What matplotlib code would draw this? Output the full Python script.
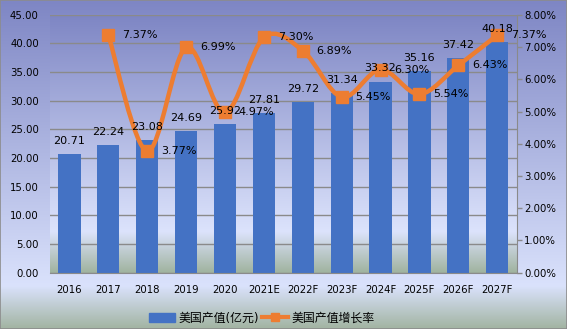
import numpy as np
import matplotlib
matplotlib.use('Agg')
import matplotlib.pyplot as plt
from matplotlib.path import Path
from matplotlib.patches import PathPatch, Rectangle
from matplotlib.lines import Line2D
from matplotlib.ticker import FuncFormatter

plt.rcParams['font.family'] = ['DejaVu Sans', 'Noto Sans CJK SC']

years = ['2016', '2017', '2018', '2019', '2020', '2021E', '2022F', '2023F',
         '2024F', '2025F', '2026F', '2027F']
output = [20.71, 22.24, 23.08, 24.69, 25.92, 27.81, 29.72, 31.34, 33.32, 35.16, 37.42, 40.18]
# growth rate starts in 2017
growth = [None, 7.37, 3.77, 6.99, 4.97, 7.30, 6.89, 5.45, 6.30, 5.54, 6.43, 7.37]

bar_name = '美国产值(亿元)'
line_name = '美国产值增长率'
bar_color = '#4472C4'
line_color = '#ED7D31'


def vgrad(stops, n=256):
    pos = np.linspace(0, 1, n)
    sp = [s[0] for s in stops]
    cols = [matplotlib.colors.to_rgb(s[1]) for s in stops]
    arr = np.zeros((n, 1, 3))
    for c in range(3):
        arr[:, 0, c] = np.interp(pos, sp, [col[c] for col in cols])
    return arr


def smooth_path(xs, ys):
    # excel-like smoothed line (catmull-rom -> cubic bezier)
    pts = list(zip(xs, ys))
    verts = [pts[0]]
    codes = [Path.MOVETO]
    for i in range(len(pts) - 1):
        p0 = pts[i - 1] if i > 0 else pts[i]
        p1 = pts[i]
        p2 = pts[i + 1]
        p3 = pts[i + 2] if i + 2 < len(pts) else pts[i + 1]
        c1 = (p1[0] + (p2[0] - p0[0]) / 6, p1[1] + (p2[1] - p0[1]) / 6)
        c2 = (p2[0] - (p3[0] - p1[0]) / 6, p2[1] - (p3[1] - p1[1]) / 6)
        verts += [c1, c2, p2]
        codes += [Path.CURVE4] * 3
    return Path(verts, codes)


fig = plt.figure(figsize=(5.67, 3.29), dpi=100)

# figure background gradient
bg = fig.add_axes([0, 0, 1, 1], zorder=-10)
bg.imshow(vgrad([(0, '#7e86c4'), (0.87, '#dae2fc'), (1, '#a2b4a2')]),
          aspect='auto', extent=[0, 1, 0, 1])
bg.set_axis_off()
fig.add_artist(Rectangle((0, 0), 1, 1, transform=fig.transFigure, fill=False,
                         edgecolor='#8c8c8c', lw=1.2))

ax = fig.add_axes([0.0882, 0.171, 0.823, 0.784])
ax.patch.set_visible(False)
ax.imshow(vgrad([(0, '#7e86c4'), (0.84, '#dce3fc'), (1, '#a0b39f')]),
          aspect='auto', extent=[0, 1, 0, 1], transform=ax.transAxes, zorder=0)

x = np.arange(len(years))
ax.bar(x, output, width=0.57, color=bar_color, zorder=2)
ax.set_xlim(-0.5, len(years) - 0.5)
ax.set_ylim(0, 45)
ax.set_yticks(np.arange(0, 46, 5))
ax.yaxis.set_major_formatter(FuncFormatter(lambda v, p: '%.2f' % v))
ax.set_xticks(x)
ax.set_xticklabels(years)
ax.grid(axis='y', color='#8a8a8a', lw=1, zorder=1)
ax.set_axisbelow(True)
ax.tick_params(axis='x', length=0, pad=9, labelsize=7.3)
ax.tick_params(axis='y', length=0, pad=8, labelsize=7.3)
for s in ['top', 'left', 'right']:
    ax.spines[s].set_visible(False)
ax.spines['bottom'].set_color('#8a8a8a')
ax.spines['bottom'].set_zorder(3)

ax2 = ax.twinx()
ax2.patch.set_visible(False)
ax2.set_ylim(0, 8)
ax2.set_yticks(np.arange(0, 8.1, 1))
ax2.yaxis.set_major_formatter(FuncFormatter(lambda v, p: '%.2f%%' % v))
ax2.tick_params(axis='y', length=3.5, width=1, color='#8a8a8a', pad=2, labelsize=7.3)
for s in ['top', 'left', 'bottom']:
    ax2.spines[s].set_visible(False)
ax2.spines['right'].set_color('#8a8a8a')

gx = [xi for xi, g in zip(x, growth) if g is not None]
gy = [g for g in growth if g is not None]
ax2.add_patch(PathPatch(smooth_path(gx, gy), fill=False, edgecolor=line_color,
                        lw=3.2, capstyle='round', joinstyle='round', zorder=3))
ax2.plot(gx, gy, linestyle='none', marker='s', ms=9, color=line_color, zorder=4)

# bar labels sit on top of the line, like in the source chart
for xi, v in zip(x, output):
    ax2.annotate('%.2f' % v, (xi, v), xycoords=ax.transData, xytext=(0, 6),
                 textcoords='offset points', ha='center', va='bottom',
                 fontsize=8, zorder=6)
for xi, g in zip(gx, gy):
    ax2.annotate('%.2f%%' % g, (xi, g), xytext=(10, 0), textcoords='offset points',
                 ha='left', va='center', fontsize=8, zorder=6)

handles = [Rectangle((0, 0), 1, 1, color=bar_color),
           Line2D([], [], color=line_color, lw=3, marker='s', ms=6)]
fig.legend(handles, [bar_name, line_name], loc='center', ncol=2,
           bbox_to_anchor=(0.462, 0.033), frameon=False, fontsize=8.6,
           handlelength=2.2, handletextpad=0.3, columnspacing=0.2)

fig.savefig('out.png', dpi=100)
